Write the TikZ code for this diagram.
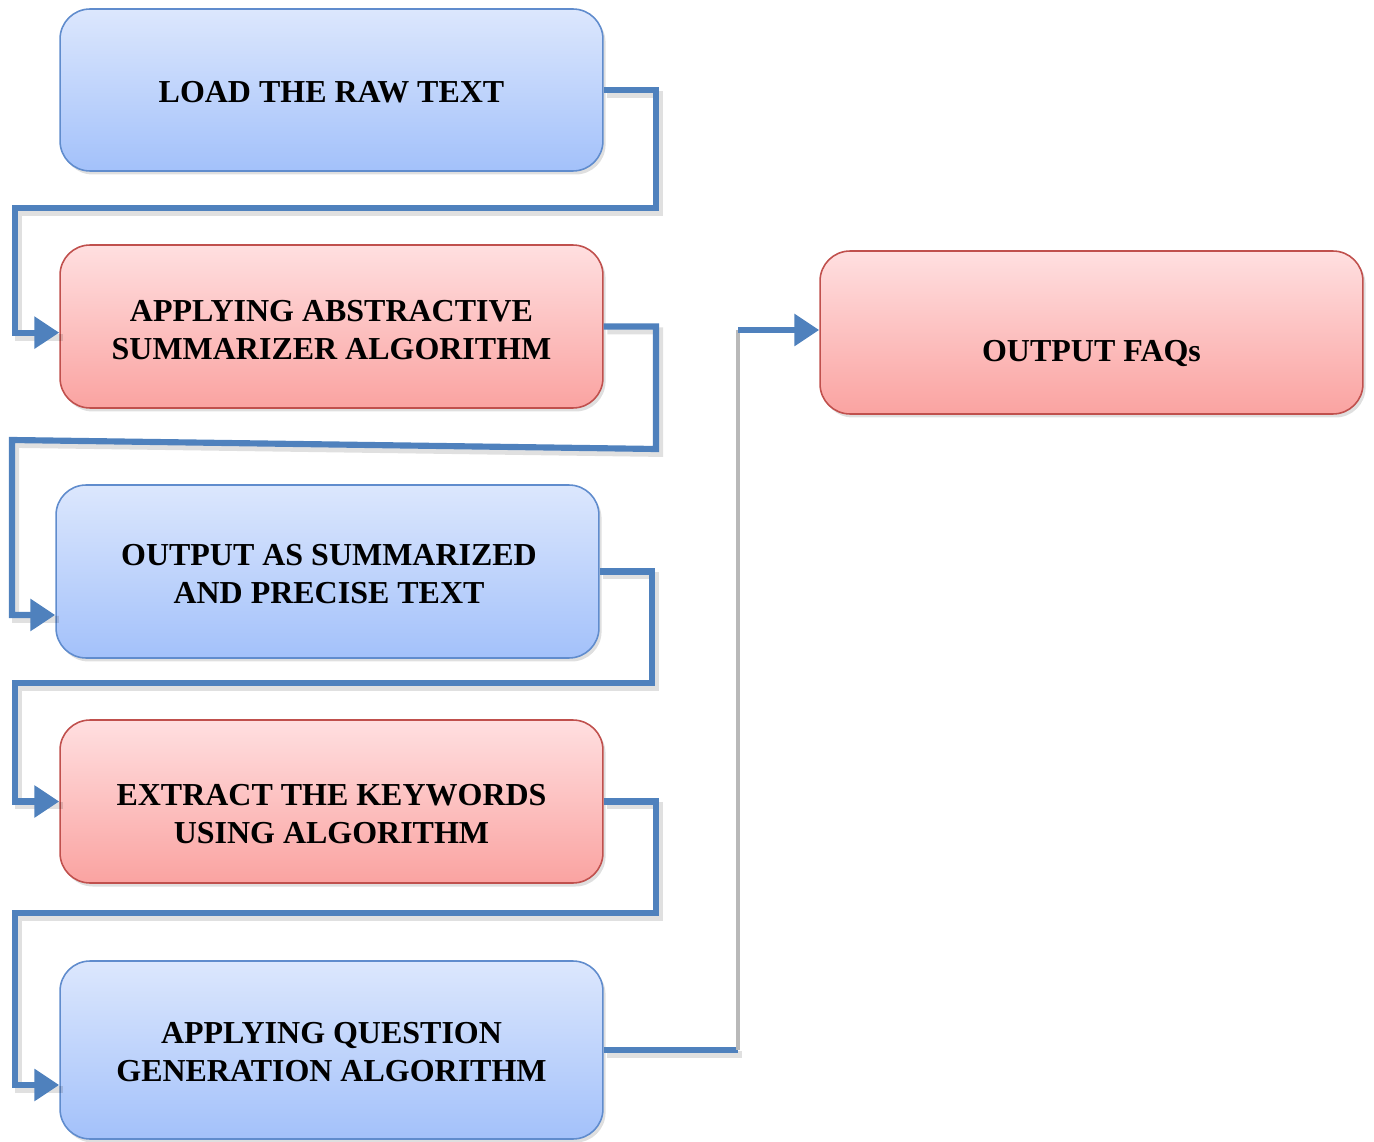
\documentclass[tikz,border=0pt]{standalone}
\usepackage{fontspec}
\setmainfont{Liberation Serif}
\usetikzlibrary{arrows.meta,shadows}
\definecolor{connblue}{RGB}{79,129,189}
\definecolor{bluetop}{RGB}{220,231,253}
\definecolor{bluebot}{RGB}{163,193,250}
\definecolor{blueedge}{RGB}{96,140,205}
\definecolor{redtop}{RGB}{255,223,224}
\definecolor{redbot}{RGB}{250,163,161}
\definecolor{rededge}{RGB}{192,80,77}
\tikzset{
  x=0.02cm, y=-0.02cm,
  boxbase/.style={rounded corners=0.6cm, line width=0.9pt, minimum width=10.86cm,
    drop shadow={shadow xshift=1.5pt, shadow yshift=-2pt, opacity=0.25}},
  bluebox/.style={boxbase, draw=blueedge, top color=bluetop, bottom color=bluebot},
  redbox/.style={boxbase, draw=rededge, top color=redtop, bottom color=redbot},
  boxtext/.style={align=center, font=\fontsize{18.2}{21.6}\selectfont\bfseries},
  conn/.style={draw=connblue, line width=3.5pt, line join=miter},
  connarrow/.style={conn, -{Triangle[length=0.5cm,width=0.62cm]}},
  connshadow/.style={draw=black, opacity=0.12, line width=4pt, transform canvas={xshift=2pt,yshift=-2.5pt}},
  grayline/.style={draw=gray!55, line width=2.4pt}
}
\begin{document}
\begin{tikzpicture}
\useasboundingbox (0,0) rectangle (1374,1142);
% boxes
\node[bluebox, minimum height=3.24cm] (b1) at (331.5,90) {};
\node[redbox, minimum height=3.26cm] (b2) at (331.5,326.5) {};
\node[bluebox, minimum height=3.46cm] (b3) at (327.5,571.5) {};
\node[redbox, minimum height=3.26cm] (b4) at (331.5,801.5) {};
\node[bluebox, minimum height=3.56cm] (b5) at (331.5,1050) {};
\node[redbox, minimum height=3.26cm] (b6) at (1091.5,332.5) {};
% texts
\node[boxtext] (t1) at (331.5,92) {LOAD THE RAW TEXT};
\node[boxtext] (t2) at (331.5,330) {APPLYING ABSTRACTIVE\\SUMMARIZER ALGORITHM};
\node[boxtext] (t3) at (329,574) {OUTPUT AS SUMMARIZED\\AND PRECISE TEXT};
\node[boxtext] (t4) at (331.5,814) {EXTRACT THE KEYWORDS\\USING ALGORITHM};
\node[boxtext] (t5) at (331.5,1052) {APPLYING QUESTION\\GENERATION ALGORITHM};
\node[boxtext] (t6) at (1091.5,354) {OUTPUT FAQs};
% connector waypoints
\coordinate (k1) at (656,208);
\coordinate (k1l) at (15,208);
\coordinate (k2) at (656,449);
\coordinate (k2l) at (12,440);
\coordinate (k3) at (652,683);
\coordinate (k3l) at (15,683);
\coordinate (k4) at (656,913);
\coordinate (k4l) at (15,913);
\coordinate (k5a) at (738,1050);
\coordinate (k5b) at (738,330);
% shadows
\draw[connshadow] (b1.east) -| (k1) -- (k1l) |- ([yshift=-3.5pt]b2.west);
\draw[connshadow] (b2.east) -| (k2) -- (k2l) |- ([yshift=-0.87cm]b3.west);
\draw[connshadow] (b3.east) -| (k3) -- (k3l) |- (b4.west);
\draw[connshadow] (b4.east) -| (k4) -- (k4l) |- ([yshift=-0.7cm]b5.west);
\draw[connshadow] (b5.east) -- (k5a);
% connectors
\draw[connarrow] (b1.east) -| (k1) -- (k1l) |- ([yshift=-3.5pt]b2.west);
\draw[connarrow] (b2.east) -| (k2) -- (k2l) |- ([yshift=-0.87cm]b3.west);
\draw[connarrow] (b3.east) -| (k3) -- (k3l) |- (b4.west);
\draw[connarrow] (b4.east) -| (k4) -- (k4l) |- ([yshift=-0.7cm]b5.west);
\draw[conn] (b5.east) -- (k5a);
\draw[grayline] (k5a) -- (k5b);
\draw[connarrow] (k5b) -- (k5b -| b6.west);
\end{tikzpicture}
\end{document}
